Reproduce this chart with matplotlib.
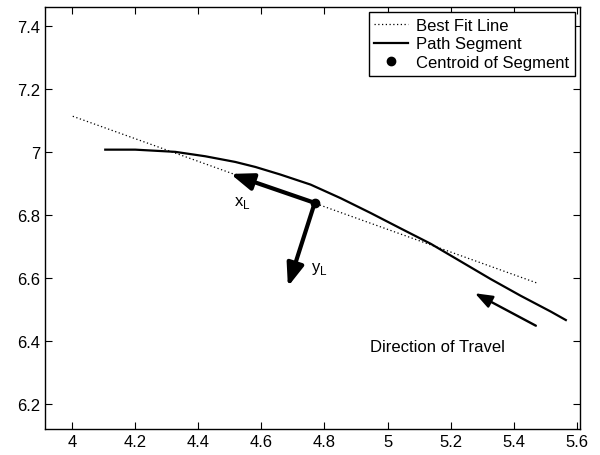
import matplotlib
matplotlib.use("Agg")
import matplotlib.pyplot as plt

plt.rcParams['font.family'] = ['Liberation Sans', 'DejaVu Sans']

# Path segment
path_x = [4.105, 4.200, 4.327, 4.422, 4.517, 4.581, 4.660, 4.756, 4.851, 4.946,
          5.041, 5.137, 5.232, 5.327, 5.422, 5.517, 5.565]
path_y = [7.007, 7.007, 7.000, 6.986, 6.968, 6.952, 6.928, 6.896, 6.853, 6.806,
          6.757, 6.708, 6.652, 6.596, 6.543, 6.493, 6.466]

# Best fit line endpoints
fit_x = [4.002, 5.475]
fit_y = [7.113, 6.583]

# Centroid
centroid_x = [4.769]
centroid_y = [6.838]

# Local axes arrow tips
xL_tip = (4.502, 6.930)
yL_tip = (4.684, 6.572)

# Direction of travel arrow
dir_tail = (5.470, 6.448)
dir_tip = (5.277, 6.551)

xticks = [4, 4.2, 4.4, 4.6, 4.8, 5, 5.2, 5.4, 5.6]
xticklabels = ['4', '4.2', '4.4', '4.6', '4.8', '5', '5.2', '5.4', '5.6']
yticks = [6.2, 6.4, 6.6, 6.8, 7, 7.2, 7.4]
yticklabels = ['6.2', '6.4', '6.6', '6.8', '7', '7.2', '7.4']

fig = plt.figure(figsize=(6, 4.56), dpi=100)
ax = fig.add_axes([0.075, 0.057, 0.8917, 0.9255])

ax.plot(fit_x, fit_y, color='black', linestyle=(0, (1, 2)), linewidth=0.9, label='Best Fit Line')
ax.plot(path_x, path_y, color='black', linewidth=1.6, label='Path Segment',
        solid_joinstyle='round')
ax.plot(centroid_x, centroid_y, 'o', color='black', markersize=6, label='Centroid of Segment', zorder=5)

c = (centroid_x[0], centroid_y[0])
for tip in (xL_tip, yL_tip):
    ax.annotate('', xy=tip, xytext=c,
                arrowprops=dict(arrowstyle='-|>,head_length=0.85,head_width=0.32',
                                lw=3.0, color='black', shrinkA=0, shrinkB=0,
                                mutation_scale=16))
ax.annotate('', xy=dir_tip, xytext=dir_tail,
            arrowprops=dict(arrowstyle='-|>,head_length=0.75,head_width=0.28',
                            lw=1.7, color='black', shrinkA=0, shrinkB=0,
                            mutation_scale=14))

ax.text(4.54, 6.84, r'x$_\mathregular{L}$', fontsize=12, ha='center', va='center')
ax.text(4.782, 6.63, r'y$_\mathregular{L}$', fontsize=12, ha='center', va='center')
ax.text(5.158, 6.381, 'Direction of Travel', fontsize=12, ha='center', va='center')

ax.set_xlim(3.914, 5.61)
ax.set_ylim(6.12, 7.46)
ax.set_xticks(xticks)
ax.set_xticklabels(xticklabels)
ax.set_yticks(yticks)
ax.set_yticklabels(yticklabels)
ax.tick_params(direction='in', top=True, right=True, length=5, labelsize=12, width=0.8)
for s in ax.spines.values():
    s.set_linewidth(1.0)

leg = ax.legend(loc='upper right', fontsize=12, frameon=True, fancybox=False,
                edgecolor='black', framealpha=1, borderaxespad=0.3,
                handlelength=2.0, labelspacing=0.22, borderpad=0.35, handletextpad=0.5)
leg.get_frame().set_linewidth(1.0)

fig.savefig('out.png', dpi=100)
